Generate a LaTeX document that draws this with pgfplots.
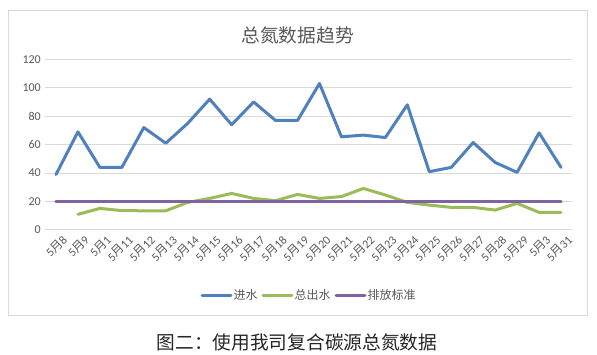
\documentclass[border=0pt]{standalone}
\usepackage{fontspec}
\setmainfont{Carlito}
\newfontfamily\cjk{Noto Sans CJK SC}
\usepackage{pgfplots}
\pgfplotsset{compat=1.18}
\definecolor{cblue}{HTML}{4F81BD}
\definecolor{cgreen}{HTML}{9BBB59}
\definecolor{cpurple}{HTML}{8064A2}
\definecolor{cgrid}{HTML}{D9D9D9}
\definecolor{ctext}{HTML}{595959}
\newcommand{\M}{{\cjk 月}}
\begin{document}
\begin{tikzpicture}
\path[use as bounding box, fill=white] (0,0) rectangle (597pt,355pt);
\draw[cgrid, line width=1pt] (8.5pt,39pt) rectangle (587pt,344.5pt);
\node[text=ctext, font=\fontsize{18.7}{22}\selectfont\cjk] at (297.6pt,320pt) {总氮数据趋势};
\node[text=black!85, font=\fontsize{18.7}{22}\selectfont\cjk] at (297pt,12.5pt) {图二：使用我司复合碳源总氮数据};
\begin{axis}[
  at={(45pt,125pt)}, anchor=south west,
  scale only axis, width=527pt, height=170.7pt,
  xmin=-0.5, xmax=23.5, ymin=0, ymax=120,
  ytick={0,20,...,120},
  xtick={0,...,23},
  xticklabels={5\M8,5\M9,5\M1,5\M11,5\M12,5\M13,5\M14,5\M15,5\M16,5\M17,5\M18,5\M19,5\M20,5\M21,5\M22,5\M23,5\M24,5\M25,5\M26,5\M27,5\M28,5\M29,5\M3,5\M31},
  axis line style={draw=none},
  tick style={draw=none},
  ymajorgrids, grid style={cgrid, line width=1pt},
  /pgf/number format/assume math mode=true,
  yticklabel style={font=\fontsize{12}{14}\selectfont, text=ctext, anchor=east, inner sep=0pt, xshift=-4pt},
  xticklabel style={font=\fontsize{12}{14}\selectfont, text=ctext, rotate=45, anchor=east, inner sep=0pt, yshift=-12pt, xshift=1pt},
  legend columns=3,
  legend style={draw=none, fill=none, at={(0.5,-0.381)}, anchor=center,
    font=\fontsize{12}{14}\selectfont\cjk, text=ctext,
    nodes={inner xsep=1pt, inner ysep=0pt},
    /tikz/every even column/.append style={column sep=3pt}},
  legend image code/.code={\draw[#1] (0pt,0pt) -- (29pt,0pt);},
  every axis plot/.append style={line width=3pt, line join=round, line cap=round, mark=none},
]
\addplot[cblue] coordinates {
(0,39) (1,69) (2,44) (3,44) (4,72) (5,61) (6,75) (7,92) (8,74) (9,90) (10,77) (11,77)
(12,103) (13,65.5) (14,66.7) (15,65) (16,88) (17,41) (18,44) (19,61.5) (20,47.5) (21,40.5) (22,68.3) (23,44)};
\addlegendentry{进水}
\addplot[cgreen] coordinates {
(1,11) (2,15.2) (3,13.6) (4,13.5) (5,13.5) (6,19.4) (7,22.2) (8,25.7) (9,22.2) (10,20.6) (11,25)
(12,22.2) (13,23.5) (14,29.2) (15,24.6) (16,19.4) (17,17.5) (18,15.9) (19,15.9) (20,14) (21,18.7) (22,12.4) (23,12.4)};
\addlegendentry{总出水}
\addplot[cpurple] coordinates {
(0,20) (1,20) (2,20) (3,20) (4,20) (5,20) (6,20) (7,20) (8,20) (9,20) (10,20) (11,20)
(12,20) (13,20) (14,20) (15,20) (16,20) (17,20) (18,20) (19,20) (20,20) (21,20) (22,20) (23,20)};
\addlegendentry{排放标准}
\end{axis}
\end{tikzpicture}
\end{document}
